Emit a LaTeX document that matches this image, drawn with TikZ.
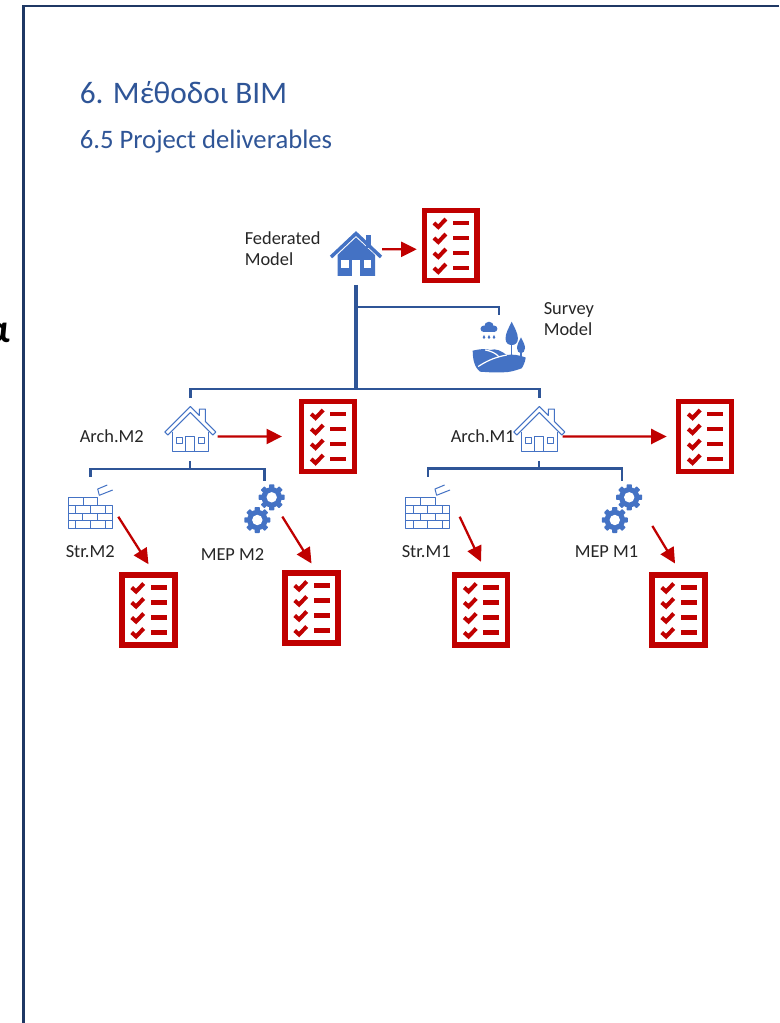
\documentclass[tikz,border=0pt]{standalone}
\usepackage{fontspec}
\setmainfont{Carlito}
\usetikzlibrary{calc}
\usetikzlibrary{arrows.meta}
\definecolor{framedark}{HTML}{1F3864}
\definecolor{linkblue}{HTML}{2F5597}
\definecolor{iconblue}{HTML}{4472C4}
\definecolor{listred}{HTML}{C00000}
\tikzset{
    iconbox/.style={inner sep=0pt, outer sep=0pt},
    modellabel/.style={inner sep=0pt, anchor=west, align=left, font=\fontsize{13.8}{15.8}\selectfont, text=black!85},
    maintrunk/.style={linkblue, line width=2.3pt},
    mainbus/.style={linkblue, line width=1.9pt},
    sublink/.style={linkblue, line width=1.7pt},
    redarrow/.style={listred, line width=1.7pt, -{Triangle[length=11.6pt, width=11.2pt]}},
    outline/.style={iconblue, line width=0.75pt, line join=round},
    checklist/.pic={
        \draw[listred, line width=4pt] (-26.4,-34.9) rectangle (26.4,34.9);
        \foreach \row in {-22.5,-7.5,7.5,22.5} {
            \draw[listred, line width=3pt] (-16.8,\row) -- (-12.4,\row+4) -- (-4.8,\row-4);
            \fill[listred] (2.3,\row-2.2) rectangle (18.3,\row+2.2);
        }
    },
    solidhouse/.pic={
        \fill[iconblue] (10,-19) rectangle (15,-6);
        \fill[iconblue] (-18.5,22) -- (-18.5,1) -- (0,-16.5) -- (19,1) -- (19,22) -- cycle;
        \draw[iconblue, line width=2.6pt] (-25,3) -- (0,-20.5) -- (25,3);
        \fill[white] (-3.8,6) rectangle (4,22);
        \fill[white] (-15,6) rectangle (-7.3,13.7);
        \fill[white] (7.7,6) rectangle (15.3,13.7);
    },
    outlinehouse/.pic={
        \draw[outline] (-25.5,3) -- (0,-22.5) -- (9,-13.5) -- (9,-20) -- (15,-20) -- (15,-7.5) -- (25.5,3) -- (22.5,6) -- (0,-16.5) -- (-22.5,6) -- cycle;
        \draw[outline] (-18,2.5) -- (-18,22.5) -- (18,22.5) -- (18,2.5);
        \draw[outline] (-4.5,22.5) -- (-4.5,7.5) -- (4.5,7.5) -- (4.5,22.5);
        \draw[outline] (-14,8) rectangle (-8,14);
        \draw[outline] (8,8) rectangle (14,14);
    },
    brickwall/.pic={
        \draw[outline] (-22,-15.5) -- (7.2,-15.5) -- (7.2,-7.75) -- (22,-7.75) -- (22,15.5) -- (-22,15.5) -- cycle;
        \draw[outline] (-22,-7.75) -- (7.2,-7.75) (-22,0) -- (22,0) (-22,7.75) -- (22,7.75);
        \draw[outline] (-7.5,-15.5) -- (-7.5,-7.75);
        \foreach \brick in {-14.7,-0.3,14.7} {
            \draw[outline] (\brick,-7.75) -- (\brick,0) (\brick,7.75) -- (\brick,15.5);
        }
        \foreach \brick in {-7.7,7.3} {
            \draw[outline] (\brick,0) -- (\brick,7.75);
        }
        % Loose brick
        \draw[outline] (8.8,-17.7) -- (7.2,-24) -- (16.8,-28);
        \draw[outline] (8.8,-17.7) -- (22.2,-23);
    },
    gearwheel/.pic={
        \fill[iconblue] (0,0) circle (10.2);
        \foreach \tooth in {0,45,...,315} {
            \fill[iconblue, rotate=\tooth, rounded corners=0.5pt] (-2.6,8) rectangle (2.6,13);
        }
        \fill[white] (0,0) circle (5.2);
    },
    gearpair/.pic={
        \pic at (7.2,-11.3) {gearwheel};
        \pic at (-7.2,11.4) {gearwheel};
    },
    landscape/.pic={
        % Cloud
        \fill[iconblue] (-15.5,-18.2) circle (3.2);
        \fill[iconblue] (-10.2,-20.5) circle (4.8);
        \fill[iconblue] (-5,-18.2) circle (3.2);
        \fill[iconblue] (-15.5,-18.5) rectangle (-5,-15);
        \foreach \drop in {-15.2,-10.2,-5.2} {
            \fill[iconblue] (\drop,-12.2) -- (\drop-1.3,-9.4) arc (180:0:1.3) -- cycle;
        }
        % Trees
        \draw[iconblue, line width=1.1pt] (12.5,-4) -- (12.5,9);
        \draw[iconblue, line width=1.1pt] (21.8,4) -- (21.8,11);
        \fill[iconblue] (12.5,-25.3) .. controls (10,-20) and (6.3,-14) .. (6.3,-8.5) .. controls (6.3,-4) and (9,-2) .. (12.5,-2) .. controls (16,-2) and (18.7,-4) .. (18.7,-8.5) .. controls (18.7,-14) and (15,-20) .. (12.5,-25.3) -- cycle;
        \fill[iconblue] (21.8,-9.7) .. controls (20,-6) and (17.8,-2.5) .. (17.8,1) .. controls (17.8,4) and (19.5,6.3) .. (21.8,6.3) .. controls (24,6.3) and (25.8,4) .. (25.8,1) .. controls (25.8,-2.5) and (23.5,-6) .. (21.8,-9.7) -- cycle;
        % Hills
        \fill[iconblue] (-26.5,3.7) .. controls (-18,1.5) and (-12,2) .. (-9.2,3) .. controls (-3,1) and (2,4) .. (7.5,8) .. controls (13,7) and (20,8) .. (26.5,10.5) .. controls (26,15) and (24,19) .. (22.5,21.3) .. controls (15,24) and (10,25.3) .. (4.1,25.3) -- (-9.2,25.3) -- (-19.2,24.7) .. controls (-24,21) and (-26.5,14) .. cycle;
        \draw[white, line width=0.9pt] (-21,19.5) .. controls (-14,15) and (-6,10.5) .. (7.5,8);
        \draw[white, line width=0.9pt] (-14,3) .. controls (-8,4) and (-3,6.5) .. (0,10);
    }
}
\begin{document}
\begin{tikzpicture}[x=0.75pt, y=-0.75pt]
    \clip (0,0) rectangle (779,1023);

    % Slide frame
    \fill[white] (0,0) rectangle (779,1023);
    \draw[framedark, line width=1.9pt] (779,6) -- (23.3,6) -- (23.3,1023);
    \node[anchor=base east, inner sep=0pt, font=\fontsize{30}{30}\selectfont\bfseries] (cutletter) at (10.5,342) {α};

    % Titles
    \node[anchor=base west, inner sep=0pt, text=linkblue, font=\fontsize{23.5}{28}\selectfont] (maintitle) at (79.5,104) {6. Μέθοδοι BIM};
    \node[anchor=base west, inner sep=0pt, text=linkblue, font=\fontsize{20}{24}\selectfont] (subtitle) at (79.5,149) {6.5 Project deliverables};

    % Models
    \node[iconbox, minimum width=39pt, minimum height=33pt] (fed) at (356,254) {};
    \pic at (fed) {solidhouse};
    \node[iconbox, minimum width=39.75pt, minimum height=38pt] (survey) at (499.2,347) {};
    \pic at (survey) {landscape};
    \foreach \name/\x in {archtwo/190.3, archone/539.3} {
        \node[iconbox, minimum width=38pt, minimum height=33.75pt] (\name) at (\x,429) {};
        \pic at (\name) {outlinehouse};
    }
    \foreach \name/\x in {strtwo/90.5, strone/427.8} {
        \node[iconbox, minimum width=33pt, minimum height=23.25pt] (\name) at (\x,513) {};
        \pic at (\name) {brickwall};
    }
    \foreach \name/\x in {meptwo/264.5, mepone/622} {
        \node[iconbox, minimum width=30.3pt, minimum height=26pt] (\name) at (\x,508.6) {};
        \pic at (\name) {gearpair};
    }

    % Deliverables
    \foreach \name/\x/\y in {fedlist/450.7/245.5, archtwolist/328/436.5, archonelist/705/436.5, strtwolist/148.5/610, meptwolist/311.5/608, stronelist/481/610, meponelist/678.5/610} {
        \node[iconbox, minimum width=43.5pt, minimum height=56.25pt] (\name) at (\x,\y) {};
        \pic at (\name) {checklist};
    }

    % Labels
    \node[modellabel] (fedlabel) at (244.5,248.5) {Federated\\Model};
    \node[modellabel] (surveylabel) at (543.5,319) {Survey\\Model};
    \node[modellabel] (archtwolabel) at (79.5,436) {Arch.M2};
    \node[modellabel] (archonelabel) at (450.5,436) {Arch.M1};
    \node[modellabel] (strtwolabel) at (65.5,552) {Str.M2};
    \node[modellabel] (meptwolabel) at (200.5,555) {MEP M2};
    \node[modellabel] (stronelabel) at (401.5,552) {Str.M1};
    \node[modellabel] (meponelabel) at (574.5,552) {MEP M1};

    % Tree links
    \coordinate (busmid) at (356,389);
    \coordinate (busleft) at (190.3,389);
    \coordinate (busright) at (539.3,389);
    \coordinate (surveyfork) at (356,307);
    \coordinate (twofork) at (190.3,469.3);
    \coordinate (onefork) at (539.3,468.6);
    \draw[maintrunk, shorten <=6.75pt] (fed.south) -- (busmid);
    \draw[mainbus, shorten >=5pt] (surveyfork) -| (survey.north);
    \draw[mainbus, shorten <=6.75pt, shorten >=6.75pt] (archtwo.north) -- (busleft) -- (busright) -- (archone.north);
    \draw[sublink, shorten <=7pt] (archtwo.south) -- (twofork);
    \draw[sublink, shorten >=15.5pt] (twofork) -| (strtwo.north);
    \draw[sublink, shorten >=7.5pt] (twofork) -| (meptwo.north);
    \draw[sublink, shorten <=7pt] (archone.south) -- (onefork);
    \draw[sublink, shorten >=15.5pt] (onefork) -| (strone.north);
    \draw[sublink, shorten >=7.5pt] (onefork) -| (mepone.north);

    % Arrows to the deliverables
    \draw[redarrow, shorten >=3.75pt] ([yshift=3.5pt]fed.east) -- ([yshift=-2.85pt]fedlist.west);
    \draw[redarrow, shorten >=12.75pt] ([xshift=1.5pt, yshift=-5.6pt]archtwo.east) -- (archtwolist.west);
    \draw[redarrow, shorten >=7pt] ([xshift=-1.5pt, yshift=-5.6pt]archone.east) -- (archonelist.west);
    \draw[redarrow] ([xshift=4.35pt, yshift=-2.8pt]strtwo.east) -- ([yshift=6.2pt]strtwolist.north);
    \draw[redarrow] ([xshift=-1.8pt, yshift=-6pt]meptwo.east) -- ([yshift=5.25pt]meptwolist.north);
    \draw[redarrow] ([xshift=7.4pt, yshift=-2.8pt]strone.east) -- ([yshift=8pt]stronelist.north);
    \draw[redarrow] ([xshift=7.6pt, yshift=-13pt]mepone.east) -- ([xshift=-2.6pt, yshift=6.75pt]meponelist.north);
\end{tikzpicture}
\end{document}
